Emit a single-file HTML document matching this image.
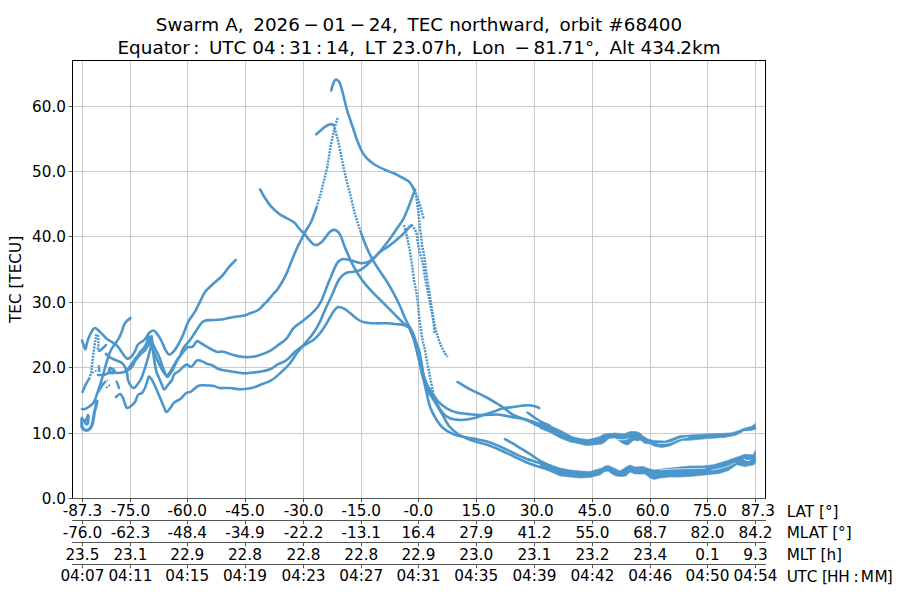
<!DOCTYPE html><html><head><meta charset="utf-8"><title>Swarm A TEC</title><style>html,body{margin:0;padding:0;background:#fff;}svg{display:block;}svg text{font-family:'DejaVu Sans', 'Liberation Sans', sans-serif;fill:#000;}</style></head><body>
<svg width="900" height="600" viewBox="0 0 900 600">
<rect width="900" height="600" fill="#fff"/>
<path d="M82.5 60.5V498.5M130.5 60.5V498.5M187.5 60.5V498.5M245.5 60.5V498.5M303.5 60.5V498.5M361.5 60.5V498.5M418.5 60.5V498.5M476.5 60.5V498.5M534.5 60.5V498.5M592.5 60.5V498.5M650.5 60.5V498.5M707.5 60.5V498.5M755.5 60.5V498.5M72.5 433.5H765.5M72.5 367.5H765.5M72.5 302.5H765.5M72.5 236.5H765.5M72.5 171.5H765.5M72.5 106.5H765.5" stroke="#cbcbcb" stroke-width="1" fill="none"/>
<path d="M331.2 90.5C331.47 89.58 332.25 86.62 332.8 85C333.35 83.38 333.85 81.68 334.5 80.8C335.15 79.92 335.87 79.42 336.7 79.7C337.53 79.98 338.62 80.78 339.5 82.5C340.38 84.22 341.17 87.08 342 90C342.83 92.92 343.67 96.67 344.5 100C345.33 103.33 346.03 106.67 347 110C347.97 113.33 349.18 116.67 350.3 120C351.42 123.33 352.58 126.67 353.7 130C354.82 133.33 355.75 136.67 357 140C358.25 143.33 359.95 147.42 361.2 150C362.45 152.58 363.25 153.83 364.5 155.5C365.75 157.17 366.9 158.42 368.7 160C370.5 161.58 372.53 163.33 375.3 165C378.07 166.67 382.23 168.62 385.3 170C388.37 171.38 390.92 172.05 393.7 173.3C396.48 174.55 399.65 176.25 402 177.5C404.35 178.75 406.42 179.85 407.8 180.8C409.18 181.75 409.52 182.25 410.3 183.2C411.08 184.15 411.88 185.37 412.5 186.5C413.12 187.63 413.75 189.42 414 190" stroke="#4c96cb" stroke-width="2.6" fill="none" stroke-linejoin="round" stroke-linecap="round"/>
<path d="M414 190C414.42 190.83 415.75 193.17 416.5 195C417.25 196.83 417.83 199 418.5 201C419.17 203 419.92 205 420.5 207C421.08 209 421.45 210.95 422 213C422.55 215.05 423.5 218.25 423.8 219.3" stroke="#4c96cb" stroke-width="2.5" fill="none" stroke-linejoin="round" stroke-linecap="butt" stroke-dasharray="2 1.1"/>
<path d="M316.2 134.2C316.88 133.63 318.78 132.05 320.3 130.8C321.82 129.55 323.63 127.8 325.3 126.7C326.97 125.6 328.9 124.48 330.3 124.2C331.7 123.92 333.13 124.87 333.7 125" stroke="#4c96cb" stroke-width="2.6" fill="none" stroke-linejoin="round" stroke-linecap="round"/>
<path d="M333.7 125C334.08 126.33 335.17 129.95 336 133C336.83 136.05 337.75 139.08 338.7 143.3C339.65 147.52 340.6 153.02 341.7 158.3C342.8 163.58 343.87 168.88 345.3 175C346.73 181.12 348.63 188.33 350.3 195C351.97 201.67 353.48 208.62 355.3 215C357.12 221.38 360.22 230.25 361.2 233.3" stroke="#4c96cb" stroke-width="2.5" fill="none" stroke-linejoin="round" stroke-linecap="butt" stroke-dasharray="2 1.1"/>
<path d="M361.2 233.3C362.17 235.8 364.92 243.57 367 248.3C369.08 253.03 371.48 257.8 373.7 261.7C375.92 265.6 378.08 268.37 380.3 271.7C382.52 275.03 384.77 278.1 387 281.7C389.23 285.3 391.48 289.13 393.7 293.3C395.92 297.47 398.42 302.58 400.3 306.7C402.18 310.82 403.38 314.45 405 318C406.62 321.55 409.17 326.33 410 328" stroke="#4c96cb" stroke-width="2.6" fill="none" stroke-linejoin="round" stroke-linecap="round"/>
<path d="M337.5 118C336.92 120.17 335.05 126.78 334 131C332.95 135.22 332.08 138.75 331.2 143.3C330.32 147.85 329.4 154.13 328.7 158.3C328 162.47 327.83 164.4 327 168.3C326.17 172.2 324.82 177.25 323.7 181.7C322.58 186.15 321.55 190.57 320.3 195C319.05 199.43 316.88 206.08 316.2 208.3" stroke="#4c96cb" stroke-width="2.5" fill="none" stroke-linejoin="round" stroke-linecap="butt" stroke-dasharray="2 1.1"/>
<path d="M316.2 208.3C315.37 210.53 313.02 217.8 311.2 221.7C309.38 225.6 307.12 228.37 305.3 231.7C303.48 235.03 301.68 238.98 300.3 241.7C298.92 244.42 298.38 244.95 297 248C295.62 251.05 293.67 255.92 292 260C290.33 264.08 288.45 269.17 287 272.5C285.55 275.83 284.97 277.08 283.3 280C281.63 282.92 278.67 287.67 277 290C275.33 292.33 274.75 292.33 273.3 294C271.85 295.67 269.97 298.17 268.3 300C266.63 301.83 264.97 303.33 263.3 305C261.63 306.67 260.52 308.62 258.3 310C256.08 311.38 252.5 312.33 250 313.3C247.5 314.27 246.08 315.18 243.3 315.8C240.52 316.42 236.63 316.43 233.3 317C229.97 317.57 226.63 318.7 223.3 319.2C219.97 319.7 216.63 319.65 213.3 320C209.97 320.35 206.07 319.63 203.3 321.3C200.53 322.97 198.92 326.88 196.7 330C194.48 333.12 192.23 336.95 190 340C187.77 343.05 184.97 345.67 183.3 348.3C181.63 350.93 181.1 353.72 180 355.8C178.9 357.88 177.67 359.27 176.7 360.8C175.73 362.33 175.03 363.6 174.2 365C173.37 366.4 172.53 367.82 171.7 369.2C170.87 370.58 170.03 372.25 169.2 373.3C168.37 374.35 167.48 375.47 166.7 375.5C165.92 375.53 165.28 374.5 164.5 373.5C163.72 372.5 162.8 370.92 162 369.5C161.2 368.08 160.42 366.42 159.7 365C158.98 363.58 158.37 362.45 157.7 361C157.03 359.55 156.37 357.85 155.7 356.3C155.03 354.75 154.37 353.25 153.7 351.7C153.03 350.15 152.37 348.78 151.7 347C151.03 345.22 150.27 342.88 149.7 341C149.13 339.12 148.63 335.92 148.3 335.7C147.97 335.48 148.03 338.37 147.7 339.7C147.37 341.03 146.75 342.6 146.3 343.7C145.85 344.8 145.55 345.42 145 346.3C144.45 347.18 143.78 348.1 143 349C142.22 349.9 141.18 350.58 140.3 351.7C139.42 352.82 138.58 354.48 137.7 355.7C136.82 356.92 136.12 357.45 135 359C133.88 360.55 132.17 363.33 131 365C129.83 366.67 129 367.83 128 369C127 370.17 125.5 371.5 125 372" stroke="#4c96cb" stroke-width="2.6" fill="none" stroke-linejoin="round" stroke-linecap="round"/>
<path d="M260.1 189.3C260.92 190.75 263.22 195.18 265 198C266.78 200.82 268.47 203.57 270.8 206.2C273.13 208.83 276.47 211.87 279 213.8C281.53 215.73 283.47 216.35 286 217.8C288.53 219.25 291.87 220.55 294.2 222.5C296.53 224.45 298.25 227.55 300 229.5C301.75 231.45 303.15 232.45 304.7 234.2C306.25 235.95 307.53 238.2 309.3 240C311.07 241.8 313.18 244.72 315.3 245C317.42 245.28 319.55 243.9 322 241.7C324.45 239.5 327.78 233.75 330 231.8C332.22 229.85 333.58 229.47 335.3 230C337.02 230.53 338.63 231.95 340.3 235C341.97 238.05 343.07 243.02 345.3 248.3C347.53 253.58 350.92 261.42 353.7 266.7C356.48 271.98 358.95 275.83 362 280C365.05 284.17 368.38 287.82 372 291.7C375.62 295.58 380.08 299.7 383.7 303.3C387.32 306.9 390.37 309.97 393.7 313.3C397.03 316.63 400.98 320.85 403.7 323.3C406.42 325.75 408.95 327.22 410 328" stroke="#4c96cb" stroke-width="2.6" fill="none" stroke-linejoin="round" stroke-linecap="round"/>
<path d="M82 340.5C82.33 341.42 83.42 344.58 84 346C84.58 347.42 85 349.5 85.5 349C86 348.5 86.42 345 87 343C87.58 341 88.17 339 89 337C89.83 335 91 332.5 92 331C93 329.5 93.83 328 95 328C96.17 328 97.67 329.83 99 331C100.33 332.17 101.67 333.67 103 335C104.33 336.33 105.67 337.92 107 339C108.33 340.08 109.67 340.67 111 341.5C112.33 342.33 113.67 342.92 115 344C116.33 345.08 117.67 346.33 119 348C120.33 349.67 121.67 352.25 123 354C124.33 355.75 125.67 358 127 358.5C128.33 359 129.67 358.25 131 357C132.33 355.75 133.83 353.08 135 351C136.17 348.92 136.67 346.17 138 344.5C139.33 342.83 141.67 342.08 143 341C144.33 339.92 145 339.33 146 338C147 336.67 147.75 334.25 149 333C150.25 331.75 152 330.17 153.5 330.5C155 330.83 156.58 333.08 158 335C159.42 336.92 160.83 339.67 162 342C163.17 344.33 163.83 346.92 165 349C166.17 351.08 167.5 354.17 169 354.5C170.5 354.83 172.5 352.58 174 351C175.5 349.42 176.5 347.67 178 345C179.5 342.33 181.28 338.88 183 335C184.72 331.12 186.3 325.58 188.3 321.7C190.3 317.82 193.05 315.03 195 311.7C196.95 308.37 198.33 304.98 200 301.7C201.67 298.42 203 294.78 205 292C207 289.22 209.17 287.67 212 285C214.83 282.33 219.17 279 222 276C224.83 273 226.71 269.67 229 267C231.29 264.33 234.62 261.17 235.75 260" stroke="#4c96cb" stroke-width="2.6" fill="none" stroke-linejoin="round" stroke-linecap="round"/>
<path d="M82 409C82.5 409 83.67 409.5 85 409C86.33 408.5 88.5 407.17 90 406C91.5 404.83 92.83 404 94 402C95.17 400 96.17 396.33 97 394C97.83 391.67 98.33 390 99 388C99.67 386 100.33 384.17 101 382C101.67 379.83 102.33 377.33 103 375C103.67 372.67 104.33 370.33 105 368C105.67 365.67 106.33 363.17 107 361C107.67 358.83 108.33 356.83 109 355C109.67 353.17 110 351.83 111 350C112 348.17 113.67 346 115 344C116.33 342 117.83 340.17 119 338C120.17 335.83 121 333.5 122 331C123 328.5 123.58 325.17 125 323C126.42 320.83 129.58 318.83 130.5 318" stroke="#4c96cb" stroke-width="2.6" fill="none" stroke-linejoin="round" stroke-linecap="round"/>
<path d="M82.5 392C83.08 390.67 84.92 386.17 86 384C87.08 381.83 88.5 379.83 89 379" stroke="#4c96cb" stroke-width="2.6" fill="none" stroke-linejoin="round" stroke-linecap="round"/>
<path d="M89 379C89.33 378 90.5 375.33 91 373C91.5 370.67 91.67 367.67 92 365C92.33 362.33 92.67 359.67 93 357C93.33 354.33 93.58 351.83 94 349C94.42 346.17 95.08 342.5 95.5 340C95.92 337.5 96.33 335 96.5 334" stroke="#4c96cb" stroke-width="2.5" fill="none" stroke-linejoin="round" stroke-linecap="butt" stroke-dasharray="2 1.1"/>
<path d="M98 335C98.08 336.5 98.58 341.5 98.5 344C98.42 346.5 97.67 349 97.5 350" stroke="#4c96cb" stroke-width="2.5" fill="none" stroke-linejoin="round" stroke-linecap="butt" stroke-dasharray="2 1.1"/>
<path d="M99 351C99.5 350.67 101.17 349.67 102 349C102.83 348.33 103.33 347.67 104 347C104.67 346.33 105.67 345.33 106 345" stroke="#4c96cb" stroke-width="2.5" fill="none" stroke-linejoin="round" stroke-linecap="round"/>
<path d="M82 418C82 419.5 81.5 425 82 427C82.5 429 83.83 429.58 85 430C86.17 430.42 87.83 430.33 89 429.5C90.17 428.67 91.25 426.92 92 425C92.75 423.08 93.08 420.17 93.5 418C93.92 415.83 94.08 414 94.5 412C94.92 410 95.58 407.83 96 406C96.42 404.17 96.83 401.83 97 401" stroke="#4c96cb" stroke-width="3.2" fill="none" stroke-linejoin="round" stroke-linecap="round"/>
<path d="M84 420C84.33 420.67 85.33 423.5 86 424C86.67 424.5 87.58 424.33 88 423C88.42 421.67 88.42 417.17 88.5 416" stroke="#4c96cb" stroke-width="2.6" fill="none" stroke-linejoin="round" stroke-linecap="round"/>
<path d="M88 415 86 420.3" stroke="#4c96cb" stroke-width="2.6" fill="none" stroke-linejoin="round" stroke-linecap="round"/>
<path d="M106 354C106.33 354.33 106.83 355.17 108 356C109.17 356.83 111.33 358.17 113 359C114.67 359.83 116.5 360.33 118 361C119.5 361.67 120.83 362 122 363C123.17 364 124.17 365.5 125 367C125.83 368.5 126.5 369.83 127 372C127.5 374.17 127.33 377.67 128 380C128.67 382.33 130 384.67 131 386C132 387.33 133 388.17 134 388C135 387.83 135.83 386.5 137 385C138.17 383.5 139.83 381.33 141 379C142.17 376.67 143.08 373.67 144 371C144.92 368.33 145.7 365.67 146.5 363C147.3 360.33 148.13 357.5 148.8 355C149.47 352.5 150.05 349.83 150.5 348C150.95 346.17 151.17 344.17 151.5 344C151.83 343.83 152.17 345.17 152.5 347C152.83 348.83 153.08 352 153.5 355C153.92 358 154.47 362.08 155 365C155.53 367.92 156 370.28 156.7 372.5C157.4 374.72 158.37 376.35 159.2 378.3C160.03 380.25 160.87 382.33 161.7 384.2C162.53 386.07 163.23 389.28 164.2 389.5C165.17 389.72 166.2 387.08 167.5 385.5C168.8 383.92 170.92 381.8 172 380C173.08 378.2 172.78 376.25 174 374.7C175.22 373.15 177.3 372.37 179.3 370.7C181.3 369.03 184 365.37 186 364.7C188 364.03 189.52 367.37 191.3 366.7C193.08 366.03 195.13 361.7 196.7 360.7C198.27 359.7 198.93 360.15 200.7 360.7C202.47 361.25 205.47 363.28 207.3 364C209.13 364.72 209.7 364.12 211.7 365C213.7 365.88 216.25 368.25 219.3 369.3C222.35 370.35 226 370.63 230 371.3C234 371.97 239.42 373.1 243.3 373.3C247.18 373.5 250.52 372.77 253.3 372.5C256.08 372.23 257.22 372.25 260 371.7C262.78 371.15 266.95 370.45 270 369.2C273.05 367.95 275.52 365.73 278.3 364.2C281.08 362.67 283.92 362.08 286.7 360C289.48 357.92 292.23 354.07 295 351.7C297.77 349.33 300.25 347.75 303.3 345.8C306.35 343.85 310.52 342.08 313.3 340C316.08 337.92 317.77 336.08 320 333.3C322.23 330.52 324.48 326.9 326.7 323.3C328.92 319.7 331.37 314.42 333.3 311.7C335.23 308.98 336.35 307.42 338.3 307C340.25 306.58 343 308.15 345 309.2C347 310.25 348.02 311.5 350.3 313.3C352.58 315.1 356.2 318.47 358.7 320C361.2 321.53 362.53 321.95 365.3 322.5C368.07 323.05 371.68 323.17 375.3 323.3C378.92 323.43 383.38 323.15 387 323.3C390.62 323.45 394.22 323.92 397 324.2C399.78 324.48 401.53 324.37 403.7 325C405.87 325.63 408.95 327.5 410 328" stroke="#4c96cb" stroke-width="2.6" fill="none" stroke-linejoin="round" stroke-linecap="round"/>
<path d="M116 397C116.67 396.5 118.83 393.83 120 394C121.17 394.17 122.17 396.33 123 398C123.83 399.67 124.33 402.33 125 404C125.67 405.67 126 407.67 127 408C128 408.33 129.67 407 131 406C132.33 405 133.83 403.83 135 402C136.17 400.17 136.83 396.5 138 395C139.17 393.5 140.83 394.17 142 393C143.17 391.83 144.17 389.83 145 388C145.83 386.17 146.33 383.92 147 382C147.67 380.08 148.17 376.83 149 376.5C149.83 376.17 151 378.42 152 380C153 381.58 154 383.83 155 386C156 388.17 157 390.67 158 393C159 395.33 160 397.67 161 400C162 402.33 163.08 405 164 407C164.92 409 165.33 412 166.5 412C167.67 412 169.75 408.55 171 407C172.25 405.45 172.38 404.08 174 402.7C175.62 401.32 178.7 400.27 180.7 398.7C182.7 397.13 184.23 394.53 186 393.3C187.77 392.07 189.3 392.52 191.3 391.3C193.3 390.08 196 387 198 386C200 385 200.63 385.3 203.3 385.3C205.97 385.3 211.33 385.55 214 386C216.67 386.45 216.63 387.67 219.3 388C221.97 388.33 226.43 387.78 230 388C233.57 388.22 237.15 389.3 240.7 389.3C244.25 389.3 248.08 388.72 251.3 388C254.52 387.28 256.6 386.33 260 385C263.4 383.67 268.08 382.22 271.7 380C275.32 377.78 278.65 374.48 281.7 371.7C284.75 368.92 287.5 366.37 290 363.3C292.5 360.23 294.2 356.63 296.7 353.3C299.2 349.97 302.23 346.63 305 343.3C307.77 339.97 310.8 336.9 313.3 333.3C315.8 329.7 318.05 325.58 320 321.7C321.95 317.82 323 314.45 325 310C327 305.55 329.72 300 332 295C334.28 290 336.48 283.62 338.7 280C340.92 276.38 342.8 274.68 345.3 273.3C347.8 271.92 351.2 272.25 353.7 271.7C356.2 271.15 358.08 271.12 360.3 270C362.52 268.88 364.77 266.95 367 265C369.23 263.05 371.53 260.47 373.7 258.3C375.87 256.13 377.95 253.72 380 252C382.05 250.28 384.28 249.17 386 248C387.72 246.83 388.47 246.42 390.3 245C392.13 243.58 394.77 241.45 397 239.5C399.23 237.55 401.87 235.13 403.7 233.3C405.53 231.47 406.7 229.85 408 228.5C409.3 227.15 410.92 225.75 411.5 225.2" stroke="#4c96cb" stroke-width="2.6" fill="none" stroke-linejoin="round" stroke-linecap="round"/>
<path d="M411.5 225.2C411.98 225.78 413.53 227.2 414.4 228.7C415.27 230.2 416.18 232.18 416.7 234.2C417.22 236.22 417.16 238.58 417.5 240.8C417.84 243.02 418.33 245.42 418.75 247.5C419.17 249.58 419.51 251.35 420 253.3C420.49 255.25 421.15 257.12 421.7 259.2C422.25 261.28 422.75 262.78 423.3 265.8C423.85 268.82 424.33 273.43 425 277.3C425.67 281.17 426.52 285.1 427.3 289C428.08 292.9 429.02 297.2 429.7 300.7C430.38 304.2 430.8 306.78 431.4 310C432 313.22 432.42 316.12 433.3 320C434.18 323.88 435.45 329.13 436.7 333.3C437.95 337.47 439.42 341.67 440.8 345C442.18 348.33 443.88 351.35 445 353.3C446.12 355.25 447.08 356.13 447.5 356.7" stroke="#4c96cb" stroke-width="2.5" fill="none" stroke-linejoin="round" stroke-linecap="butt" stroke-dasharray="2 1.1"/>
<path d="M98 375C99 375 101.83 375.5 104 375C106.17 374.5 108.67 372.33 111 372C113.33 371.67 115.83 373 118 373C120.17 373 122.33 372.5 124 372C125.67 371.5 126.67 370.83 128 370C129.33 369.17 130.83 368.5 132 367C133.17 365.5 133.95 362.67 135 361C136.05 359.33 137.18 358.33 138.3 357C139.42 355.67 140.58 354.12 141.7 353C142.82 351.88 144.12 351.3 145 350.3C145.88 349.3 146.33 348.1 147 347C147.67 345.9 148.42 345.03 149 343.7C149.58 342.37 150.05 340.23 150.5 339C150.95 337.77 151.4 335.85 151.7 336.3C152 336.75 151.87 339.92 152.3 341.7C152.73 343.48 153.63 345.45 154.3 347C154.97 348.55 155.63 349.67 156.3 351C156.97 352.33 157.63 353.55 158.3 355C158.97 356.45 159.68 358.03 160.3 359.7C160.92 361.37 161.42 363.28 162 365C162.58 366.72 163.2 368.42 163.8 370C164.4 371.58 164.98 373.33 165.6 374.5C166.22 375.67 166.77 377.08 167.5 377C168.23 376.92 169.13 375.25 170 374C170.87 372.75 171.78 371.17 172.7 369.5C173.62 367.83 174.62 365.8 175.5 364C176.38 362.2 177.58 359.58 178 358.7C178.42 357.82 177.12 359.82 178 358.7C178.88 357.58 181.75 353.9 183.3 352C184.85 350.1 185.73 348.18 187.3 347.3C188.87 346.42 191.13 347.7 192.7 346.7C194.27 345.7 195.48 342 196.7 341.3C197.92 340.6 198.33 341.6 200 342.5C201.67 343.4 203.92 345.17 206.7 346.7C209.48 348.23 213.93 350.87 216.7 351.7C219.47 352.53 220.53 351.15 223.3 351.7C226.07 352.25 229.97 354.12 233.3 355C236.63 355.88 239.97 356.72 243.3 357C246.63 357.28 250.52 357.03 253.3 356.7C256.08 356.37 257.22 355.98 260 355C262.78 354.02 266.95 352.47 270 350.8C273.05 349.13 275.52 347.08 278.3 345C281.08 342.92 284.2 341.08 286.7 338.3C289.2 335.52 290.8 331.07 293.3 328.3C295.8 325.53 298.92 323.92 301.7 321.7C304.48 319.48 307.5 317.23 310 315C312.5 312.77 314.75 310.8 316.7 308.3C318.65 305.8 320.53 302.22 321.7 300C322.87 297.78 322.27 298.62 323.7 295C325.13 291.38 328.08 283.58 330.3 278.3C332.52 273.02 335.05 266.48 337 263.3C338.95 260.12 340.05 259.8 342 259.2C343.95 258.6 346.48 259.28 348.7 259.7C350.92 260.12 353.08 261.1 355.3 261.7C357.52 262.3 359.77 263.3 362 263.3C364.23 263.3 366.48 262.8 368.7 261.7C370.92 260.6 373.08 258.82 375.3 256.7C377.52 254.58 379.5 252.07 382 249C384.5 245.93 387.8 241.72 390.3 238.3C392.8 234.88 394.77 231.83 397 228.5C399.23 225.17 401.78 221.88 403.7 218.3C405.62 214.72 406.83 211.17 408.5 207C410.17 202.83 412.62 196.2 413.7 193.3C414.78 190.4 414.78 190.22 415 189.6" stroke="#4c96cb" stroke-width="2.6" fill="none" stroke-linejoin="round" stroke-linecap="round"/>
<path d="M415 189.6C415.17 190.67 415.58 193.43 416 196C416.42 198.57 417.08 202.17 417.5 205C417.92 207.83 418.22 210.5 418.5 213C418.78 215.5 418.95 217.45 419.2 220C419.45 222.55 419.66 225.52 420 228.3C420.34 231.08 420.92 233.92 421.25 236.7C421.58 239.48 421.58 242.23 422 245C422.42 247.77 423.25 250.52 423.75 253.3C424.25 256.08 424.62 258.92 425 261.7C425.38 264.48 425.62 266.95 426 270C426.38 273.05 426.8 276.67 427.3 280C427.8 283.33 428.47 286.67 429 290C429.53 293.33 430 296.67 430.5 300C431 303.33 431.5 306.67 432 310C432.5 313.33 433.08 316.17 433.5 320C433.92 323.83 434.33 330.83 434.5 333" stroke="#4c96cb" stroke-width="2.5" fill="none" stroke-linejoin="round" stroke-linecap="butt" stroke-dasharray="2 1.1"/>
<path d="M403.9 225.2C404.3 226.55 405.57 230.28 406.3 233.3C407.03 236.32 407.68 240.23 408.3 243.3C408.92 246.37 409.51 248.92 410 251.7C410.49 254.48 410.83 257.23 411.25 260C411.67 262.77 412.04 264.97 412.5 268.3C412.96 271.63 413.42 276.38 414 280C414.58 283.62 415.42 286.67 416 290C416.58 293.33 417.08 296.67 417.5 300C417.92 303.33 418.17 306.67 418.5 310C418.83 313.33 419.08 316.67 419.5 320C419.92 323.33 420.5 326.67 421 330C421.5 333.33 421.92 337 422.5 340C423.08 343 423.8 344.67 424.5 348C425.2 351.33 425.78 355.22 426.7 360C427.62 364.78 428.9 371.15 430 376.7C431.1 382.25 432.75 390.53 433.3 393.3" stroke="#4c96cb" stroke-width="2.5" fill="none" stroke-linejoin="round" stroke-linecap="butt" stroke-dasharray="2 1.1"/>
<path d="M410 328C410.5 328.83 412 330.67 413 333C414 335.33 415 339.17 416 342C417 344.83 418.17 347 419 350C419.83 353 420.33 356.33 421 360C421.67 363.67 422.33 367.83 423 372C423.67 376.17 424.33 381.17 425 385C425.67 388.83 426.17 391.38 427 395C427.83 398.62 428.5 402.7 430 406.7C431.5 410.7 433.83 415.45 436 419C438.17 422.55 440.17 425.5 443 428C445.83 430.5 449.05 432.42 453 434C456.95 435.58 463.03 436.7 466.7 437.5C470.37 438.3 471.62 438.13 475 438.8C478.38 439.47 482.83 440.22 487 441.5C491.17 442.78 495.83 444.7 500 446.5C504.17 448.3 507.83 450.33 512 452.3C516.17 454.27 520.67 456.6 525 458.3C529.33 460 533.83 461.25 538 462.5C542.17 463.75 548 465.25 550 465.8" stroke="#4c96cb" stroke-width="2.6" fill="none" stroke-linejoin="round" stroke-linecap="round"/>
<path d="M410 330C410.67 331.67 412.83 336.33 414 340C415.17 343.67 416 347.83 417 352C418 356.17 419 360.67 420 365C421 369.33 421.83 373.83 423 378C424.17 382.17 425.33 386.5 427 390C428.67 393.5 430.55 395.12 433 399C435.45 402.88 439.03 408.8 441.7 413.3C444.37 417.8 446.28 422.55 449 426C451.72 429.45 454.83 431.83 458 434C461.17 436.17 464.67 437.63 468 439C471.33 440.37 474.67 441.2 478 442.2C481.33 443.2 484.33 443.7 488 445C491.67 446.3 496 448.25 500 450C504 451.75 507.83 453.55 512 455.5C516.17 457.45 520.67 459.87 525 461.7C529.33 463.53 533.83 465.12 538 466.5C542.17 467.88 548 469.42 550 470" stroke="#4c96cb" stroke-width="2.6" fill="none" stroke-linejoin="round" stroke-linecap="round"/>
<path d="M410 328C410.67 329.67 412.83 334.33 414 338C415.17 341.67 416 346 417 350C418 354 419 358 420 362C421 366 422 370.5 423 374C424 377.5 424.55 380 426 383C427.45 386 429.65 388.88 431.7 392C433.75 395.12 435.8 398.98 438.3 401.7C440.8 404.42 443.63 406.5 446.7 408.3C449.77 410.1 452.82 411.52 456.7 412.5C460.58 413.48 466.12 413.78 470 414.2C473.88 414.62 476.67 414.92 480 415C483.33 415.08 486.67 414.75 490 414.7C493.33 414.65 496.67 414.37 500 414.7C503.33 415.03 506.67 416.1 510 416.7C513.33 417.3 516.67 417.62 520 418.3C523.33 418.98 526.67 419.85 530 420.8C533.33 421.75 536.67 422.97 540 424C543.33 425.03 548.33 426.5 550 427" stroke="#4c96cb" stroke-width="2.6" fill="none" stroke-linejoin="round" stroke-linecap="round"/>
<path d="M410 329C410.83 331.17 413.5 337.5 415 342C416.5 346.5 417.83 351.33 419 356C420.17 360.67 420.83 365.67 422 370C423.17 374.33 424.83 378.67 426 382C427.17 385.33 427.78 387.55 429 390C430.22 392.45 431.18 393.08 433.3 396.7C435.42 400.32 438.92 408.1 441.7 411.7C444.48 415.3 446.67 416.92 450 418.3C453.33 419.68 457.82 420 461.7 420C465.58 420 469.7 419.13 473.3 418.3C476.9 417.47 479.97 416.1 483.3 415C486.63 413.9 489.97 412.82 493.3 411.7C496.63 410.58 499.97 409.08 503.3 408.3C506.63 407.52 510.23 407.42 513.3 407C516.37 406.58 519.2 406.08 521.7 405.8C524.2 405.52 526.08 405.22 528.3 405.3C530.52 405.38 533.18 405.85 535 406.3C536.82 406.75 538.5 407.72 539.2 408" stroke="#4c96cb" stroke-width="2.6" fill="none" stroke-linejoin="round" stroke-linecap="round"/>
<path d="M457.5 382C459.03 382.92 463.5 385.75 466.7 387.5C469.9 389.25 473.37 390.83 476.7 392.5C480.03 394.17 483.37 395.7 486.7 397.5C490.03 399.3 493.93 401.63 496.7 403.3C499.47 404.97 500.53 405.55 503.3 407.5C506.07 409.45 509.4 412.92 513.3 415C517.2 417.08 522.53 418.2 526.7 420C530.87 421.8 534.42 424.13 538.3 425.8C542.18 427.47 548.05 429.3 550 430" stroke="#4c96cb" stroke-width="2.6" fill="none" stroke-linejoin="round" stroke-linecap="round"/>
<path d="M527.5 412.5C529.3 413.75 534.55 417.78 538.3 420C542.05 422.22 548.05 424.83 550 425.8" stroke="#4c96cb" stroke-width="2.6" fill="none" stroke-linejoin="round" stroke-linecap="round"/>
<path d="M505 439.2C506.95 440.3 512.53 443.3 516.7 445.8C520.87 448.3 525.83 451.55 530 454.2C534.17 456.85 538.37 459.77 541.7 461.7C545.03 463.63 548.62 465.12 550 465.8" stroke="#4c96cb" stroke-width="2.6" fill="none" stroke-linejoin="round" stroke-linecap="round"/>
<path d="M540 421 550 425.5 560 430 566 433 572 436.5 580 438.5 588 439.5 593 438.5 600 436.5 603 434.5 608 433.5 616 433 624 434 630 431.5 636 431.5 640 433 643 436 648 439 654 440.5 665 441 672 438.5 680 435.5 690 435 707.5 433.9 725 433.3 732 432.7 739 430.4 744.8 428.1 751.8 426.3 755.3 423.4 755.9 429.2 750.6 430.4 743.6 431 736.6 435.1 725 437.4 707.5 438.6 690 440.3 682 440.5 676 443 670 446 662 447.5 655 446.5 650 444 645 443.5 640 440 638 441 634 440 631 442.5 628 445 625 444.5 622 443 618 440 614 438 609 438.5 605 442 602 444 593 445 586 445.5 580 444 570 442 560 438 550 432.5 540 428.5Z" fill="#4c96cb" stroke="#4c96cb" stroke-width="0.6" stroke-linejoin="round"/>
<path d="M540 460.5 550 464.5 560 468 570 470 580 471 590 471.5 595 470 602 468 605 466 608 465.5 612 467 616 469 620 471 626 467 630 465 635 467 643 466.5 650 469 655 470 665 468.5 680 467 690 466 701.7 466 713.3 464.8 725 461.3 733.1 458.4 740.1 456.1 744.8 454.3 753 454.9 755.3 450.2 755.9 461.3 754.1 464.8 744.8 466.6 736.6 464.8 728.5 470.6 719.2 473.6 707.5 474.7 690 476.5 680 477 670 477 660 478 654 479.5 650 478 645 474 635 474 630 472 626 476 622 476.5 616 476 612 474 608 471 604 472 600 475 590 477.5 580 478 570 477 560 476 550 471.5 540 466.5Z" fill="#4c96cb" stroke="#4c96cb" stroke-width="0.6" stroke-linejoin="round"/>
<path d="M110 368C110.67 368.33 113.5 369.17 114 370C114.5 370.83 113.83 372.67 113 373C112.17 373.33 109.5 372.83 109 372C108.5 371.17 109.83 368.67 110 368" stroke="#4c96cb" stroke-width="3" fill="none" stroke-linejoin="round" stroke-linecap="round"/>
<path d="M105.3 381.7C104.75 382.42 103.1 384.33 102 386C100.9 387.67 99.25 390.75 98.7 391.7" stroke="#4c96cb" stroke-width="2.2" fill="none" stroke-linejoin="round" stroke-linecap="round"/>
<path d="M102 384 108 380" stroke="#4c96cb" stroke-width="1.8" fill="none" stroke-linejoin="round" stroke-linecap="butt" stroke-dasharray="2 1.1"/>
<path d="M106 388 111 384" stroke="#4c96cb" stroke-width="1.8" fill="none" stroke-linejoin="round" stroke-linecap="butt" stroke-dasharray="2 1.1"/>
<path d="M116.7 381.7C116.92 382.25 117.62 383.95 118 385C118.38 386.05 118.83 387.5 119 388" stroke="#4c96cb" stroke-width="2.4" fill="none" stroke-linejoin="round" stroke-linecap="round"/>
<path d="M98.7 366 99.5 371" stroke="#4c96cb" stroke-width="2.2" fill="none" stroke-linejoin="round" stroke-linecap="round"/>
<path d="M92 373C92.67 372.67 94.67 371.5 96 371C97.33 370.5 99.33 370.17 100 370" stroke="#4c96cb" stroke-width="1.8" fill="none" stroke-linejoin="round" stroke-linecap="butt" stroke-dasharray="2 1.1"/>
<path d="M658 443.5C659.33 443.45 663.67 443.45 666 443.2C668.33 442.95 669.67 442.75 672 442C674.33 441.25 677.33 439.5 680 438.7C682.67 437.9 686.67 437.45 688 437.2" stroke="#fff" stroke-width="0.9" stroke-opacity="0.85" fill="none" stroke-linejoin="round" stroke-linecap="round"/>
<path d="M660 469.8C662.67 469.67 670.67 469.2 676 469C681.33 468.8 687.17 468.72 692 468.6C696.83 468.48 702.83 468.35 705 468.3" stroke="#fff" stroke-width="0.8" stroke-opacity="0.85" fill="none" stroke-linejoin="round" stroke-linecap="round"/>
<path d="M712 470C713.33 469.77 717.5 469.18 720 468.6C722.5 468.02 724.5 467.43 727 466.5C729.5 465.57 733.67 463.58 735 463" stroke="#fff" stroke-width="0.8" stroke-opacity="0.85" fill="none" stroke-linejoin="round" stroke-linecap="round"/>
<path d="M613 438.5C613.83 438.67 616.17 439.28 618 439.5C619.83 439.72 622.33 439.95 624 439.8C625.67 439.65 627.33 438.8 628 438.6" stroke="#fff" stroke-width="0.9" stroke-opacity="0.85" fill="none" stroke-linejoin="round" stroke-linecap="round"/>
<path d="M744 459C744.5 459.25 746 460.33 747 460.5C748 460.67 749.5 460.08 750 460" stroke="#fff" stroke-width="1.0" stroke-opacity="0.85" fill="none" stroke-linejoin="round" stroke-linecap="round"/>
<path d="M72.5 499V60M72 60.5H766M765.5 60V499" stroke="#000" stroke-width="1" fill="none"/>
<path d="M72 498.5H766M72 520.5H766M72 542.5H766M72 564.5H766M82.5 499v3.2M130.5 499v3.2M187.5 499v3.2M245.5 499v3.2M303.5 499v3.2M361.5 499v3.2M418.5 499v3.2M476.5 499v3.2M534.5 499v3.2M592.5 499v3.2M650.5 499v3.2M707.5 499v3.2M755.5 499v3.2M82.5 521v3.2M130.5 521v3.2M187.5 521v3.2M245.5 521v3.2M303.5 521v3.2M361.5 521v3.2M418.5 521v3.2M476.5 521v3.2M534.5 521v3.2M592.5 521v3.2M650.5 521v3.2M707.5 521v3.2M755.5 521v3.2M82.5 543v3.2M130.5 543v3.2M187.5 543v3.2M245.5 543v3.2M303.5 543v3.2M361.5 543v3.2M418.5 543v3.2M476.5 543v3.2M534.5 543v3.2M592.5 543v3.2M650.5 543v3.2M707.5 543v3.2M755.5 543v3.2M82.5 565v3.2M130.5 565v3.2M187.5 565v3.2M245.5 565v3.2M303.5 565v3.2M361.5 565v3.2M418.5 565v3.2M476.5 565v3.2M534.5 565v3.2M592.5 565v3.2M650.5 565v3.2M707.5 565v3.2M755.5 565v3.2M72 498.5h-3.2M72 433.5h-3.2M72 367.5h-3.2M72 302.5h-3.2M72 236.5h-3.2M72 171.5h-3.2M72 106.5h-3.2" stroke="#555" stroke-width="1" fill="none"/>
<text x="66" y="503.7" font-size="15.28" text-anchor="end">0.0</text>
<text x="66" y="438.7" font-size="15.28" text-anchor="end">10.0</text>
<text x="66" y="372.7" font-size="15.28" text-anchor="end">20.0</text>
<text x="66" y="307.7" font-size="15.28" text-anchor="end">30.0</text>
<text x="66" y="241.7" font-size="15.28" text-anchor="end">40.0</text>
<text x="66" y="176.7" font-size="15.28" text-anchor="end">50.0</text>
<text x="66" y="111.7" font-size="15.28" text-anchor="end">60.0</text>
<text x="82.4" y="516.2" font-size="15.28" text-anchor="middle">-87.3</text>
<text x="130.4" y="516.2" font-size="15.28" text-anchor="middle">-75.0</text>
<text x="187.3" y="516.2" font-size="15.28" text-anchor="middle">-60.0</text>
<text x="244.9" y="516.2" font-size="15.28" text-anchor="middle">-45.0</text>
<text x="303.6" y="516.2" font-size="15.28" text-anchor="middle">-30.0</text>
<text x="361.3" y="516.2" font-size="15.28" text-anchor="middle">-15.0</text>
<text x="418.4" y="516.2" font-size="15.28" text-anchor="middle">-0.0</text>
<text x="478.6" y="516.2" font-size="15.28" text-anchor="middle">15.0</text>
<text x="536.8" y="516.2" font-size="15.28" text-anchor="middle">30.0</text>
<text x="594.8" y="516.2" font-size="15.28" text-anchor="middle">45.0</text>
<text x="652.7" y="516.2" font-size="15.28" text-anchor="middle">60.0</text>
<text x="709.9" y="516.2" font-size="15.28" text-anchor="middle">75.0</text>
<text x="757.9" y="516.2" font-size="15.28" text-anchor="middle">87.3</text>
<text x="82.4" y="537.8" font-size="15.28" text-anchor="middle">-76.0</text>
<text x="130.4" y="537.8" font-size="15.28" text-anchor="middle">-62.3</text>
<text x="187.3" y="537.8" font-size="15.28" text-anchor="middle">-48.4</text>
<text x="244.9" y="537.8" font-size="15.28" text-anchor="middle">-34.9</text>
<text x="303.6" y="537.8" font-size="15.28" text-anchor="middle">-22.2</text>
<text x="361.3" y="537.8" font-size="15.28" text-anchor="middle">-13.1</text>
<text x="418.4" y="537.8" font-size="15.28" text-anchor="middle">16.4</text>
<text x="476.2" y="537.8" font-size="15.28" text-anchor="middle">27.9</text>
<text x="534.4" y="537.8" font-size="15.28" text-anchor="middle">41.2</text>
<text x="592.4" y="537.8" font-size="15.28" text-anchor="middle">55.0</text>
<text x="650.3" y="537.8" font-size="15.28" text-anchor="middle">68.7</text>
<text x="707.5" y="537.8" font-size="15.28" text-anchor="middle">82.0</text>
<text x="755.5" y="537.8" font-size="15.28" text-anchor="middle">84.2</text>
<text x="82.4" y="559.8" font-size="15.28" text-anchor="middle">23.5</text>
<text x="130.4" y="559.8" font-size="15.28" text-anchor="middle">23.1</text>
<text x="187.3" y="559.8" font-size="15.28" text-anchor="middle">22.9</text>
<text x="244.9" y="559.8" font-size="15.28" text-anchor="middle">22.8</text>
<text x="303.6" y="559.8" font-size="15.28" text-anchor="middle">22.8</text>
<text x="361.3" y="559.8" font-size="15.28" text-anchor="middle">22.8</text>
<text x="418.4" y="559.8" font-size="15.28" text-anchor="middle">22.9</text>
<text x="476.2" y="559.8" font-size="15.28" text-anchor="middle">23.0</text>
<text x="534.4" y="559.8" font-size="15.28" text-anchor="middle">23.1</text>
<text x="592.4" y="559.8" font-size="15.28" text-anchor="middle">23.2</text>
<text x="650.3" y="559.8" font-size="15.28" text-anchor="middle">23.4</text>
<text x="707.5" y="559.8" font-size="15.28" text-anchor="middle">0.1</text>
<text x="755.5" y="559.8" font-size="15.28" text-anchor="middle">9.3</text>
<text x="82.4" y="581.2" font-size="15.28" text-anchor="middle">04:07</text>
<text x="130.4" y="581.2" font-size="15.28" text-anchor="middle">04:11</text>
<text x="187.3" y="581.2" font-size="15.28" text-anchor="middle">04:15</text>
<text x="244.9" y="581.2" font-size="15.28" text-anchor="middle">04:19</text>
<text x="303.6" y="581.2" font-size="15.28" text-anchor="middle">04:23</text>
<text x="361.3" y="581.2" font-size="15.28" text-anchor="middle">04:27</text>
<text x="418.4" y="581.2" font-size="15.28" text-anchor="middle">04:31</text>
<text x="476.2" y="581.2" font-size="15.28" text-anchor="middle">04:35</text>
<text x="534.4" y="581.2" font-size="15.28" text-anchor="middle">04:39</text>
<text x="592.4" y="581.2" font-size="15.28" text-anchor="middle">04:42</text>
<text x="650.3" y="581.2" font-size="15.28" text-anchor="middle">04:46</text>
<text x="707.5" y="581.2" font-size="15.28" text-anchor="middle">04:50</text>
<text x="755.5" y="581.2" font-size="15.28" text-anchor="middle">04:54</text>
<text x="786.7" y="516.8" font-size="15.28">LAT [°]</text>
<text x="786.7" y="538.4" font-size="15.28">MLAT [°]</text>
<text x="786.7" y="560.4" font-size="15.28">MLT [h]</text>
<text y="581.8" font-size="15.28"><tspan x="786.7">U</tspan><tspan x="797.54">T</tspan><tspan x="806.87">C</tspan><tspan x="822">[</tspan><tspan x="827.05">H</tspan><tspan x="838.2">H</tspan><tspan x="853.5">:</tspan><tspan x="860.8">M</tspan><tspan x="874.4">M</tspan><tspan x="886.7">]</tspan></text>
<text transform="translate(21.3 279.5) rotate(-90)" font-size="15.28" text-anchor="middle">TEC [TECU]</text>
<text y="31.1" font-size="18.33"><tspan x="155.72">S</tspan><tspan x="167.4">w</tspan><tspan x="182.45">a</tspan><tspan x="193.73">r</tspan><tspan x="201.3">m</tspan><tspan x="225.2">A</tspan><tspan x="237.79">,</tspan><tspan x="253.2">2</tspan><tspan x="264.91">0</tspan><tspan x="276.62">2</tspan><tspan x="288.32">6</tspan><tspan x="303.62">−</tspan><tspan x="322.62">0</tspan><tspan x="334.33">1</tspan><tspan x="349.63">−</tspan><tspan x="368.63">2</tspan><tspan x="380.34">4</tspan><tspan x="392.05">,</tspan><tspan x="407.46">T</tspan><tspan x="418.7">E</tspan><tspan x="430.33">C</tspan><tspan x="449.15">n</tspan><tspan x="460.81">o</tspan><tspan x="472.07">r</tspan><tspan x="479.64">t</tspan><tspan x="486.86">h</tspan><tspan x="498.52">w</tspan><tspan x="513.57">a</tspan><tspan x="524.85">r</tspan><tspan x="532.41">d</tspan><tspan x="544.09">,</tspan><tspan x="559.5">o</tspan><tspan x="570.76">r</tspan><tspan x="578.33">b</tspan><tspan x="590.01">i</tspan><tspan x="595.12">t</tspan><tspan x="608.32">#</tspan><tspan x="623.73">6</tspan><tspan x="635.44">8</tspan><tspan x="647.15">4</tspan><tspan x="658.86">0</tspan><tspan x="670.57">0</tspan></text>
<text y="53.5" font-size="18.33"><tspan x="117.42">E</tspan><tspan x="129.05">q</tspan><tspan x="140.73">u</tspan><tspan x="152.4">a</tspan><tspan x="163.67">t</tspan><tspan x="170.89">o</tspan><tspan x="182.15">r</tspan><tspan x="193.3">:</tspan><tspan x="209.06">U</tspan><tspan x="222.18">T</tspan><tspan x="233.42">C</tspan><tspan x="252.25">0</tspan><tspan x="263.96">4</tspan><tspan x="279.25">:</tspan><tspan x="289.04">3</tspan><tspan x="300.74">1</tspan><tspan x="316.04">:</tspan><tspan x="325.82">1</tspan><tspan x="337.53">4</tspan><tspan x="349.24">,</tspan><tspan x="364.65">L</tspan><tspan x="374.9">T</tspan><tspan x="392.12">2</tspan><tspan x="403.83">3</tspan><tspan x="415.54">.</tspan><tspan x="421.39">0</tspan><tspan x="433.1">7</tspan><tspan x="444.8">h</tspan><tspan x="456.47">,</tspan><tspan x="471.88">L</tspan><tspan x="482.13">o</tspan><tspan x="493.39">n</tspan><tspan x="514.61">−</tspan><tspan x="533.62">8</tspan><tspan x="545.33">1</tspan><tspan x="557.04">.</tspan><tspan x="561.5">7</tspan><tspan x="573.2">1</tspan><tspan x="584.91">°</tspan><tspan x="594.11">,</tspan><tspan x="609.52">A</tspan><tspan x="622.11">l</tspan><tspan x="627.23">t</tspan><tspan x="640.42">4</tspan><tspan x="652.13">3</tspan><tspan x="663.83">4</tspan><tspan x="675.54">.</tspan><tspan x="680.35">2</tspan><tspan x="692.06">k</tspan><tspan x="702.72">m</tspan></text>
</svg></body></html>
